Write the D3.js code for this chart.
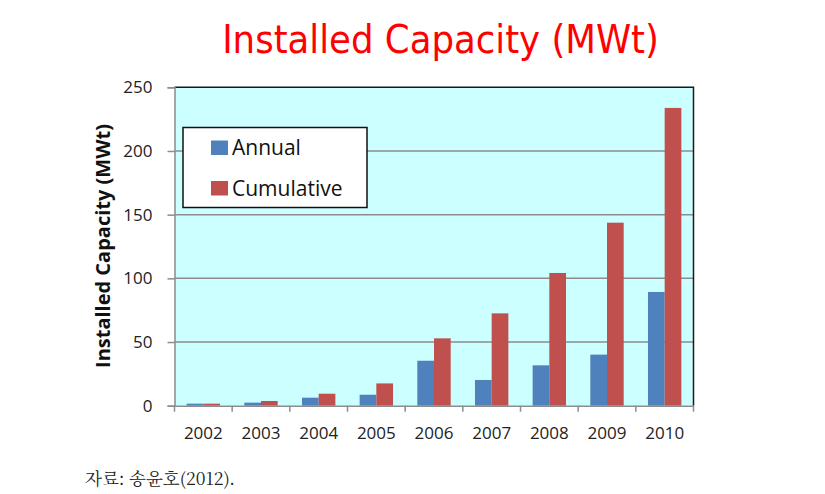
<!DOCTYPE html>
<html>
<head>
<meta charset="utf-8">
<script src="https://cdn.jsdelivr.net/npm/d3@7"></script>
<style>
  html, body { margin: 0; padding: 0; background: #ffffff; }
  svg { display: block; }
</style>
</head>
<body>
<svg id="chart" width="825" height="494"></svg>
<script>
const years = ["2002", "2003", "2004", "2005", "2006", "2007", "2008", "2009", "2010"];
const annual = [1.6, 2.4, 6.3, 8.6, 35.3, 20.2, 31.7, 40.1, 89.3];
const cumulative = [1.6, 3.7, 9.4, 17.5, 52.9, 72.5, 104.2, 143.7, 233.8];
const seriesNames = ["Annual", "Cumulative"];
const seriesColors = ["#4F81BD", "#C0504D"];
const yTicks = [0, 50, 100, 150, 200, 250];
const titleText = "Installed Capacity (MWt)";
const yTitleText = "Installed Capacity (MWt)";
const sourceText = "자료: 송윤호(2012).";

const svg = d3.select("#chart");
const plot = { left: 174.5, right: 693.5, top: 87.3, bottom: 405.7 };

const x0 = d3.scaleBand().domain(years).range([plot.left, plot.right]).padding(0);
const x1 = d3.scaleBand().domain(seriesNames).range([0, x0.bandwidth()])
  .paddingInner(0).paddingOuter(0.727);
const y = d3.scaleLinear().domain([0, 250]).range([plot.bottom, plot.top]);

const seriesData = [annual, cumulative];

// Title
svg.append("text")
  .attr("x", 440.5).attr("y", 52.5)
  .attr("text-anchor", "middle")
  .attr("font-family", "'DejaVu Sans Condensed', 'DejaVu Sans', sans-serif")
  .attr("font-stretch", "condensed")
  .attr("font-size", 39.5)
  .attr("fill", "#FF0000")
  .text(titleText);

// Plot background
svg.append("rect")
  .attr("x", plot.left).attr("y", plot.top)
  .attr("width", plot.right - plot.left).attr("height", plot.bottom - plot.top)
  .attr("fill", "#CCFFFF");

// Gridlines
svg.append("g")
  .selectAll("line")
  .data(yTicks.filter(d => d > 0 && d < 250))
  .join("line")
  .attr("x1", plot.left).attr("x2", plot.right)
  .attr("y1", d => y(d)).attr("y2", d => y(d))
  .attr("stroke", "#8C8C8C").attr("stroke-width", 1.5);

// Bars
const groups = svg.append("g").selectAll("g")
  .data(years)
  .join("g")
  .attr("transform", d => `translate(${x0(d)},0)`);

groups.selectAll("rect")
  .data((d, i) => seriesNames.map((s, k) => ({ s, k, v: seriesData[k][i] })))
  .join("rect")
  .attr("x", d => x1(d.s))
  .attr("width", x1.bandwidth())
  .attr("y", d => y(d.v))
  .attr("height", d => y(0) - y(d.v))
  .attr("fill", d => seriesColors[d.k]);

// Top & right border
svg.append("path")
  .attr("d", `M${plot.left},${plot.top}H${plot.right}V${plot.bottom}`)
  .attr("fill", "none").attr("stroke", "#1a1a1a").attr("stroke-width", 1.5);

// Y axis
const yAxis = svg.append("g")
  .attr("transform", `translate(${plot.left},0)`)
  .call(d3.axisLeft(y).tickValues(yTicks).tickSize(7).tickPadding(15));
yAxis.select(".domain").attr("stroke", "#8C8C8C").attr("stroke-width", 1.5);
yAxis.selectAll(".tick line").attr("stroke", "#8C8C8C").attr("stroke-width", 1.5);
yAxis.selectAll(".tick text")
  .attr("font-family", "'Open Sans', sans-serif")
  .attr("font-size", 17)
  .attr("fill", "#222222");

// X axis (labels at centers)
const xAxis = svg.append("g")
  .attr("transform", `translate(0,${plot.bottom})`)
  .call(d3.axisBottom(x0).tickSize(0).tickPadding(21));
xAxis.select(".domain").attr("stroke", "#8C8C8C").attr("stroke-width", 1.5);
xAxis.selectAll(".tick text")
  .attr("font-family", "'Open Sans', sans-serif")
  .attr("font-size", 17)
  .attr("fill", "#222222");

// X boundary ticks
const boundaries = years.map(d => x0(d)).concat([x0(years[years.length - 1]) + x0.bandwidth()]);
svg.append("g").selectAll("line")
  .data(boundaries)
  .join("line")
  .attr("x1", d => d).attr("x2", d => d)
  .attr("y1", plot.bottom).attr("y2", plot.bottom + 6)
  .attr("stroke", "#8C8C8C").attr("stroke-width", 1.5);

// Y title
svg.append("text")
  .attr("transform", "translate(110,246) rotate(-90)")
  .attr("text-anchor", "middle")
  .attr("font-family", "'Open Sans', sans-serif")
  .attr("font-weight", "bold")
  .attr("font-size", 20)
  .attr("fill", "#111111")
  .text(yTitleText);

// Legend
const legend = svg.append("g");
legend.append("rect")
  .attr("x", 183).attr("y", 127.5)
  .attr("width", 184).attr("height", 80)
  .attr("fill", "#ffffff").attr("stroke", "#111111").attr("stroke-width", 1.5);
const legendRows = [{ name: seriesNames[0], color: seriesColors[0], y: 140.5 },
                    { name: seriesNames[1], color: seriesColors[1], y: 181 }];
legendRows.forEach(r => {
  legend.append("rect")
    .attr("x", 211).attr("y", r.y)
    .attr("width", 17).attr("height", 14.5)
    .attr("fill", r.color);
  legend.append("text")
    .attr("x", 232).attr("y", r.y + 14.5)
    .attr("font-family", "'Open Sans', sans-serif")
    .attr("font-size", 21)
    .attr("fill", "#111111")
    .text(r.name);
});

// Source note
svg.append("text")
  .attr("x", 85).attr("y", 485)
  .attr("font-family", "'Noto Serif CJK KR', 'Noto Sans CJK KR', serif")
  .attr("font-size", 17.5)
  .attr("fill", "#222222")
  .text(sourceText);
</script>
</body>
</html>
